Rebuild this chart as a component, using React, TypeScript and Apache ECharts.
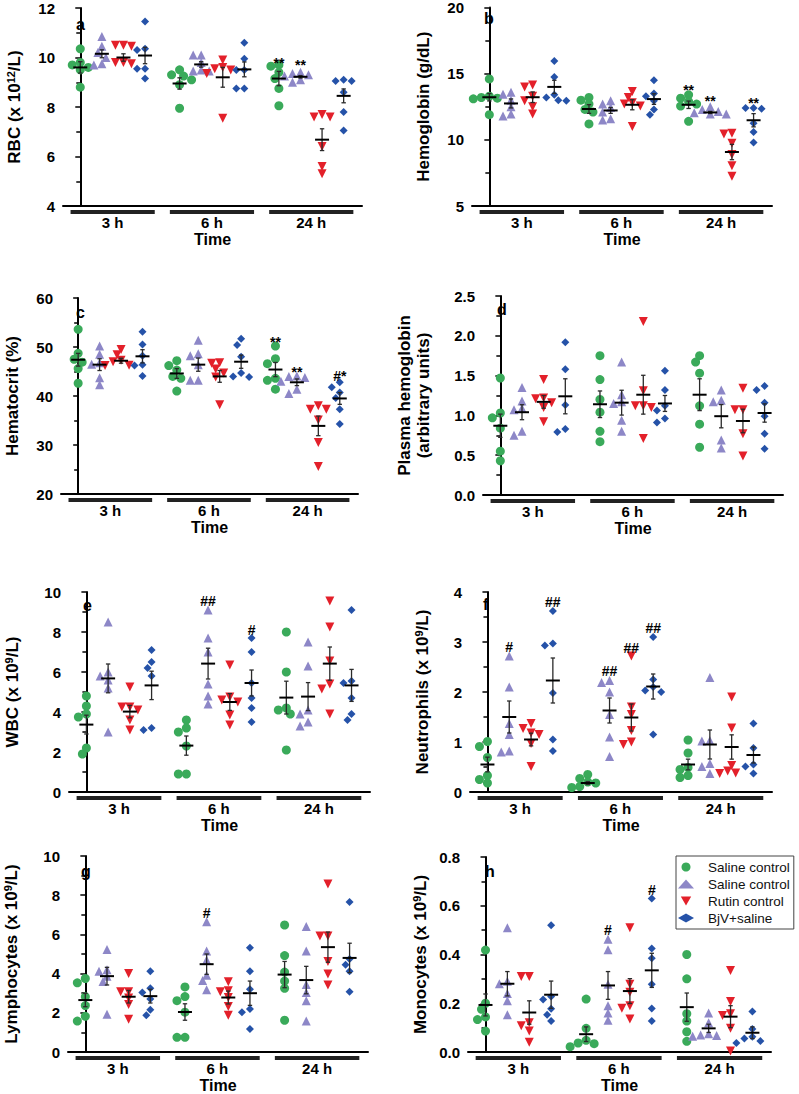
import React, { useEffect, useRef } from "react";
import * as echarts from "echarts";

const FONT = '"Liberation Sans", Arial, Helvetica, sans-serif';

// ---------- shared categories ----------
const groups = ["3 h", "6 h", "24 h"];
const seriesLabels = ["Saline control", "Saline control", "Rutin control", "BjV+saline"];
const COLORS = ["#3aaa5a", "#8d87c7", "#e3202a", "#2552a8"];
const SYMBOLS = ["circle", "triangle", "triangle", "diamond"];
const ROTS = [0, 0, 180, 0];
const SIZES = [9, 9, 9, 8];
const LEGEND_ICONS = ["circle", "triangle", "path://M0,0L10,0L5,8.66Z", "diamond"];

// ---------- a: RBC ----------  [series][group][points]
const rbcPts = [
  [[10.35, 9.8, 9.7, 9.6, 9.5, 8.8], [9.5, 9.3, 9.25, 9.1, 8.9, 7.95], [9.7, 9.65, 9.4, 9.15, 8.75, 8.05]],
  [[10.85, 10.45, 10.2, 10.0, 9.75, 9.7], [10.1, 10.1, 9.8, 9.5, 9.45, 9.45], [9.4, 9.35, 9.3, 9.25, 9.1, 9.0]],
  [[10.5, 10.5, 10.45, 9.8, 9.75, 9.8], [9.9, 9.6, 9.55, 9.5, 9.35, 7.55], [7.7, 7.6, 7.6, 6.4, 5.6, 5.3]],
  [[11.45, 10.35, 10.3, 9.55, 9.55, 9.15], [10.6, 9.95, 9.5, 9.5, 8.75, 8.75], [9.1, 9.05, 9.05, 8.6, 7.8, 7.05]],
];
const rbcMean = [[9.6, 8.95, 9.15], [10.15, 9.72, 9.22], [10.0, 9.2, 6.68], [10.08, 9.52, 8.45]];
const rbcSem = [[0.23, 0.23, 0.29], [0.16, 0.11, 0.05], [0.15, 0.4, 0.44], [0.33, 0.3, 0.28]];
const rbcAnn = [[2, 0, "**", 9.95], [2, 1, "**", 9.85]];

// ---------- b: Hemoglobin ----------
const hgbPts = [
  [[14.6, 13.3, 13.2, 13.15, 13.1, 11.9], [13.2, 13.0, 12.7, 12.3, 12.1, 11.2], [13.4, 13.15, 12.9, 12.7, 12.55, 11.4]],
  [[13.6, 13.45, 13.0, 12.5, 11.95, 11.8], [12.95, 12.7, 12.45, 12.1, 11.6, 11.5], [12.5, 12.3, 12.15, 12.05, 11.95, 11.95]],
  [[14.15, 14.0, 13.3, 12.95, 12.5, 11.95], [13.65, 13.2, 12.8, 12.7, 12.55, 11.0], [10.5, 10.45, 9.75, 8.9, 8.05, 7.25]],
  [[15.95, 14.75, 13.4, 13.2, 13.0, 12.95], [14.5, 13.5, 13.3, 12.95, 12.3, 11.9], [12.4, 12.4, 12.35, 11.25, 10.6, 9.8]],
];
const hgbMean = [[13.22, 12.33, 12.65], [12.75, 12.22, 12.07], [13.22, 12.65, 9.08], [14.0, 13.08, 11.48]];
const hgbSem = [[0.28, 0.33, 0.28], [0.34, 0.22, 0.08], [0.4, 0.38, 0.58], [0.5, 0.4, 0.5]];
const hgbAnn = [[2, 0, "**", 14.07], [2, 1, "**", 13.2], [2, 3, "**", 13.07]];

// ---------- c: Hematocrit ----------
const hctPts = [
  [[53.6, 48.7, 47.5, 46.9, 45.6, 42.6], [47.2, 46.2, 45.3, 44.0, 43.6, 41.0], [50.2, 47.6, 46.6, 43.6, 43.2, 41.4]],
  [[50.2, 48.5, 46.8, 46.5, 43.7, 42.3], [51.4, 48.6, 48.2, 46.4, 43.2, 43.2], [44.1, 44.0, 43.8, 43.0, 41.4, 40.5]],
  [[49.5, 48.4, 47.3, 47.0, 46.3, 46.2], [46.8, 46.7, 45.5, 44.7, 43.9, 38.2], [38.0, 37.3, 37.3, 35.1, 30.5, 25.6]],
  [[53.1, 50.5, 48.2, 46.4, 46.2, 44.1], [51.7, 50.4, 48.0, 44.7, 44.0, 43.9], [42.8, 41.8, 40.7, 39.6, 37.3, 34.3]],
];
const hctMean = [[47.4, 44.6, 45.4], [46.4, 46.4, 42.8], [47.2, 44.0, 33.9], [48.1, 47.0, 39.5]];
const hctSem = [[1.3, 1.0, 1.45], [1.2, 1.35, 0.68], [0.5, 1.2, 2.0], [1.35, 1.35, 1.2]];
const hctAnn = [[2, 0, "**", 51.9], [2, 1, "**", 45.8], [2, 3, "#*", 44.9]];

// ---------- d: Plasma hemoglobin ----------
const phPts = [
  [[1.47, 1.03, 0.97, 0.84, 0.55, 0.43], [1.75, 1.45, 1.2, 1.04, 0.8, 0.67], [1.75, 1.67, 1.53, 1.12, 0.89, 0.6]],
  [[1.35, 1.18, 1.09, 1.07, 0.8, 0.75], [1.67, 1.26, 1.17, 1.15, 0.94, 0.8], [1.32, 1.19, 1.17, 0.69, 0.59]],
  [[1.45, 1.22, 1.21, 1.16, 1.1, 0.92], [2.18, 1.31, 1.12, 1.12, 1.1, 0.71], [1.34, 1.07, 1.07, 0.77, 0.49]],
  [[1.92, 1.58, 1.13, 0.83, 0.79], [1.56, 1.32, 1.12, 1.06, 0.96, 0.91], [1.37, 1.32, 1.16, 0.99, 0.77, 0.58]],
];
const phMean = [[0.87, 1.14, 1.26], [1.04, 1.16, 0.99], [1.17, 1.26, 0.93], [1.24, 1.15, 1.03]];
const phSem = [[0.146, 0.167, 0.2], [0.094, 0.156, 0.146], [0.08, 0.244, 0.148], [0.22, 0.1, 0.115]];
const phAnn: any[] = [];

// ---------- e: WBC ----------
const wbcPts = [
  [[4.8, 4.3, 3.9, 3.75, 2.2, 1.9], [3.6, 3.2, 3.0, 2.3, 0.9, 0.9], [8.0, 6.0, 4.2, 4.1, 3.9, 2.1]],
  [[8.5, 6.0, 5.8, 5.6, 5.2, 3.0], [9.1, 7.7, 7.0, 5.4, 4.8, 4.4], [7.5, 6.3, 4.1, 3.9, 3.5, 3.3]],
  [[5.25, 4.25, 4.25, 4.1, 3.6, 3.1], [6.35, 4.75, 4.6, 4.5, 3.85, 3.35], [9.55, 8.25, 6.55, 5.4, 5.15, 3.9]],
  [[7.1, 6.5, 6.2, 5.8, 3.2, 3.1], [7.7, 7.0, 5.45, 4.7, 4.2, 3.5], [9.1, 5.55, 5.45, 4.7, 3.9, 3.6]],
];
const wbcMean = [[3.37, 2.32, 4.72], [5.68, 6.42, 4.77], [4.02, 4.5, 6.42], [5.33, 5.45, 5.33]];
const wbcSem = [[0.47, 0.48, 0.82], [0.72, 0.77, 0.7], [0.31, 0.42, 0.83], [0.71, 0.65, 0.8]];
const wbcAnn = [[1, 1, "##", 9.58], [1, 3, "#", 8.17]];

// ---------- f: Neutrophils ----------
const neuPts = [
  [[1.01, 0.91, 0.69, 0.33, 0.25, 0.18], [0.35, 0.27, 0.2, 0.18, 0.11, 0.09], [1.04, 0.78, 0.49, 0.45, 0.33, 0.29]],
  [[2.72, 2.1, 1.37, 1.15, 0.82, 0.8], [2.23, 2.19, 2.0, 1.55, 1.1, 0.71], [2.29, 1.03, 1.02, 0.57, 0.51, 0.37]],
  [[1.37, 1.27, 1.18, 1.15, 0.97, 0.51], [2.72, 1.7, 1.55, 1.23, 1.0, 0.95], [1.9, 1.28, 0.53, 0.42, 0.38, 0.37]],
  [[3.62, 2.97, 2.93, 1.98, 1.05, 0.82], [3.1, 2.25, 2.1, 2.03, 2.0, 1.15], [1.37, 0.88, 0.55, 0.51, 0.37]],
];
const neuMean = [[0.55, 0.18, 0.55], [1.5, 1.63, 0.95], [1.05, 1.49, 0.9], [2.23, 2.11, 0.74]];
const neuSem = [[0.147, 0.03, 0.107], [0.32, 0.25, 0.29], [0.127, 0.27, 0.243], [0.45, 0.25, 0.16]];
const neuAnn = [[0, 1, "#", 2.93], [0, 3, "##", 3.83], [1, 1, "##", 2.45], [1, 2, "##", 2.9], [1, 3, "##", 3.3]];

// ---------- g: Lymphocytes ----------
const lymPts = [
  [[3.75, 3.53, 2.82, 2.37, 1.82, 1.58], [3.32, 2.83, 2.62, 2.03, 0.75, 0.75], [6.48, 4.92, 4.08, 3.62, 3.25, 1.62]],
  [[5.23, 4.2, 4.12, 3.87, 3.6, 1.92], [6.65, 5.15, 4.7, 3.92, 3.65, 3.17], [6.4, 5.15, 3.45, 3.03, 2.62, 1.58]],
  [[4.0, 3.08, 3.08, 2.75, 2.42, 1.67], [3.58, 3.12, 3.08, 2.78, 2.32, 1.87], [8.57, 5.92, 5.92, 4.62, 3.98, 3.42]],
  [[4.12, 3.25, 3.03, 2.7, 2.15, 1.87], [5.32, 4.12, 3.2, 2.2, 2.03, 1.17], [7.65, 4.75, 4.45, 4.12, 3.07]],
];
const lymMean = [[2.65, 2.04, 3.95], [3.87, 4.48, 3.67], [2.82, 2.78, 5.35], [2.85, 3.0, 4.8]];
const lymSem = [[0.34, 0.42, 0.67], [0.45, 0.52, 0.7], [0.32, 0.33, 0.77], [0.35, 0.62, 0.75]];
const lymAnn = [[1, 1, "#", 7.12]];

// ---------- h: Monocytes ----------
const monPts = [
  [[0.418, 0.2, 0.175, 0.144, 0.133, 0.086], [0.217, 0.097, 0.048, 0.037, 0.034, 0.022], [0.4, 0.3, 0.157, 0.127, 0.083, 0.044]],
  [[0.51, 0.29, 0.28, 0.24, 0.21, 0.153], [0.463, 0.42, 0.278, 0.19, 0.16, 0.13], [0.16, 0.12, 0.075, 0.07, 0.068, 0.065]],
  [[0.31, 0.31, 0.12, 0.108, 0.086, 0.04], [0.51, 0.278, 0.245, 0.19, 0.18, 0.135], [0.334, 0.207, 0.157, 0.15, 0.097, 0.004]],
  [[0.52, 0.228, 0.215, 0.177, 0.153, 0.127], [0.63, 0.425, 0.385, 0.278, 0.178, 0.127], [0.166, 0.094, 0.063, 0.055, 0.045, 0.037]],
];
const monMean = [[0.193, 0.073, 0.184], [0.28, 0.273, 0.097], [0.162, 0.25, 0.145], [0.235, 0.335, 0.079]];
const monSem = [[0.045, 0.03, 0.058], [0.05, 0.057, 0.017], [0.048, 0.051, 0.045], [0.056, 0.07, 0.024]];
const monAnn = [[1, 1, "#", 0.506], [1, 3, "#", 0.67]];

// ---------- layout ----------
const GROUP_STEP = 4.6;
const X_MIN = -0.8;
const X_MAX = 13.05;
const xPos = (g: number, s: number) => g * GROUP_STEP + s;
const groupCenter = (g: number) => g * GROUP_STEP + 1.5;

const f0 = (v: number) => String(v);
const f1 = (v: number) => v.toFixed(1);

const panels = [
  { letter: "a", name: "RBC (x 10{s|12}/L)", pts: rbcPts, mean: rbcMean, sem: rbcSem, ann: rbcAnn, min: 4, max: 12, interval: 2, fmt: f0, grid: { left: 63, top: 8, width: 299, height: 198 }, nameGap: 39, lx: 76, ly: 24 },
  { letter: "b", name: "Hemoglobin (g/dL)", pts: hgbPts, mean: hgbMean, sem: hgbSem, ann: hgbAnn, min: 5, max: 20, interval: 5, fmt: f0, grid: { left: 472, top: 6, width: 300, height: 200 }, nameGap: 39, lx: 484, ly: 18 },
  { letter: "c", name: "Hematocrit (%)", pts: hctPts, mean: hctMean, sem: hctSem, ann: hctAnn, min: 20, max: 60, interval: 10, fmt: f0, grid: { left: 61, top: 298, width: 297, height: 196 }, nameGap: 39, lx: 76, ly: 312 },
  { letter: "d", name: "Plasma hemoglobin\n(arbitrary units)", pts: phPts, mean: phMean, sem: phSem, ann: phAnn, min: 0, max: 2.5, interval: 0.5, fmt: f1, grid: { left: 483, top: 296, width: 300, height: 199 }, nameGap: 50, lx: 497, ly: 309 },
  { letter: "e", name: "WBC (x 10{s|9}/L)", pts: wbcPts, mean: wbcMean, sem: wbcSem, ann: wbcAnn, min: 0, max: 10, interval: 2, fmt: f0, grid: { left: 69, top: 592, width: 301, height: 200 }, nameGap: 47, lx: 83, ly: 605 },
  { letter: "f", name: "Neutrophils (x 10{s|9}/L)", pts: neuPts, mean: neuMean, sem: neuSem, ann: neuAnn, min: 0, max: 4, interval: 1, fmt: f0, grid: { left: 470, top: 592, width: 302, height: 200 }, nameGap: 38, lx: 483, ly: 604 },
  { letter: "g", name: "Lymphocytes (x 10{s|9}/L)", pts: lymPts, mean: lymMean, sem: lymSem, ann: lymAnn, min: 0, max: 10, interval: 2, fmt: f0, grid: { left: 68, top: 856, width: 300, height: 200 }, nameGap: 47, lx: 81, ly: 871 },
  { letter: "h", name: "Monocytes (x 10{s|9}/L)", pts: monPts, mean: monMean, sem: monSem, ann: monAnn, min: 0, max: 0.8, interval: 0.2, fmt: f1, grid: { left: 468, top: 857, width: 303, height: 199 }, nameGap: 38, lx: 485, ly: 871 },
];

// beeswarm offsets (in x units) so points of similar value sit side by side
function swarm(vals: number[], pxPerY: number, pxPerX: number): number[] {
  const d = 6.5;
  const cands = [0, -4, 4, -8, 8, -12, 12, -16, 16];
  const order = vals.map((_, i) => i).sort((a, b) => vals[b] - vals[a]);
  const placed: { x: number; y: number }[] = [];
  const offs = new Array(vals.length).fill(0);
  for (const i of order) {
    const y = vals[i] * pxPerY;
    for (const c of cands) {
      const ok = placed.every((p) => Math.hypot(p.x - c, p.y - y) >= d);
      if (ok) {
        offs[i] = c / pxPerX;
        placed.push({ x: c, y });
        break;
      }
    }
  }
  return offs;
}

function buildOption() {
  const grid: any[] = [];
  const xAxis: any[] = [];
  const yAxis: any[] = [];
  const series: any[] = [];
  const graphic: any[] = [];

  panels.forEach((p, pi) => {
    grid.push({ ...p.grid, containLabel: false });
    xAxis.push({
      gridIndex: pi,
      type: "value",
      min: X_MIN,
      max: X_MAX,
      axisLine: { show: true, onZero: false, lineStyle: { color: "#000", width: 2 } },
      axisTick: { show: false },
      splitLine: { show: false },
      axisLabel: {
        customValues: groups.map((_, g) => groupCenter(g)),
        formatter: (v: number) => groups[Math.round((v - 1.5) / GROUP_STEP)] || "",
        margin: 9,
        fontSize: 15,
        fontWeight: "bold",
        color: "#000",
        fontFamily: FONT,
      },
      name: "Time",
      nameLocation: "middle",
      nameGap: 25,
      nameTextStyle: { fontSize: 16, fontWeight: "bold", color: "#000", fontFamily: FONT },
    });
    yAxis.push({
      gridIndex: pi,
      type: "value",
      min: p.min,
      max: p.max,
      interval: p.interval,
      axisLine: { show: true, lineStyle: { color: "#000", width: 2 } },
      axisTick: { show: true, length: 5, lineStyle: { color: "#000", width: 1.5 } },
      minorTick: { show: true, splitNumber: 2, length: 4, lineStyle: { color: "#000", width: 1.5 } },
      splitLine: { show: false },
      minorSplitLine: { show: false },
      axisLabel: { formatter: p.fmt, margin: 8, fontSize: 15, fontWeight: "bold", color: "#000", fontFamily: FONT },
      name: p.name,
      nameLocation: "middle",
      nameGap: p.nameGap,
      nameTextStyle: {
        fontSize: 17,
        fontWeight: "bold",
        color: "#000",
        fontFamily: FONT,
        lineHeight: 19,
        rich: { s: { fontSize: 11, fontWeight: "bold", color: "#000", fontFamily: FONT, verticalAlign: "top", lineHeight: 19 } },
      },
    });

    const pxPerY = p.grid.height / (p.max - p.min);
    const pxPerX = p.grid.width / (X_MAX - X_MIN);

    // points
    for (let s = 0; s < 4; s++) {
      const data: number[][] = [];
      for (let g = 0; g < 3; g++) {
        const vals = p.pts[s][g];
        const offs = swarm(vals, pxPerY, pxPerX);
        vals.forEach((v, i) => data.push([xPos(g, s) + offs[i], v]));
      }
      series.push({
        type: "scatter",
        name: "S" + s,
        xAxisIndex: pi,
        yAxisIndex: pi,
        symbol: SYMBOLS[s],
        symbolRotate: ROTS[s],
        symbolSize: SIZES[s],
        itemStyle: { color: COLORS[s], opacity: 1 },
        data,
        z: 2,
      });
    }

    // mean ± SEM
    const msData: number[][] = [];
    for (let s = 0; s < 4; s++) for (let g = 0; g < 3; g++) msData.push([xPos(g, s), p.mean[s][g], p.sem[s][g]]);
    series.push({
      type: "custom",
      xAxisIndex: pi,
      yAxisIndex: pi,
      encode: { x: 0, y: 1 },
      z: 5,
      data: msData,
      renderItem: (params: any, api: any) => {
        const x = api.value(0), m = api.value(1), se = api.value(2);
        const c = api.coord([x, m]);
        const t = api.coord([x, m + se]);
        const b = api.coord([x, m - se]);
        const hw = 7, cw = 2.2;
        const es = { stroke: "#2a2a2a", lineWidth: 1.3 };
        return {
          type: "group",
          children: [
            { type: "line", shape: { x1: c[0], y1: t[1], x2: c[0], y2: b[1] }, style: es },
            { type: "line", shape: { x1: c[0] - cw, y1: t[1], x2: c[0] + cw, y2: t[1] }, style: es },
            { type: "line", shape: { x1: c[0] - cw, y1: b[1], x2: c[0] + cw, y2: b[1] }, style: es },
            { type: "line", shape: { x1: c[0] - hw, y1: c[1], x2: c[0] + hw, y2: c[1] }, style: { stroke: "#000", lineWidth: 2 } },
          ],
        };
      },
    });

    // group bars under axis
    series.push({
      type: "custom",
      xAxisIndex: pi,
      yAxisIndex: pi,
      encode: { x: 0, y: 1 },
      clip: false,
      silent: true,
      data: groups.map((_, g) => [groupCenter(g), p.min]),
      renderItem: (params: any, api: any) => {
        const cx = api.value(0), y0 = api.value(1);
        const a = api.coord([cx - 1.95, y0]);
        const b = api.coord([cx + 1.95, y0]);
        return { type: "rect", shape: { x: a[0], y: a[1] + 4, width: b[0] - a[0], height: 4 }, style: { fill: "#222" } };
      },
    });

    // significance marks
    if (p.ann.length) {
      series.push({
        type: "scatter",
        xAxisIndex: pi,
        yAxisIndex: pi,
        symbolSize: 1,
        itemStyle: { color: "rgba(0,0,0,0)" },
        silent: true,
        z: 6,
        label: {
          show: true,
          position: "inside",
          formatter: "{b}",
          color: "#000",
          fontSize: 14,
          fontWeight: "bold",
          fontFamily: FONT,
          opacity: 1,
          textBorderWidth: 0,
          textBorderColor: "transparent",
        },
        data: p.ann.map((a: any) => ({
          name: a[2],
          value: [xPos(a[0], a[1]), a[3]],
          label: { offset: [0, a[2].indexOf("*") >= 0 ? 4 : 1] },
        })),
      });
    }

    graphic.push({
      type: "text",
      x: p.lx,
      y: p.ly,
      style: { text: p.letter, font: `bold 16px ${FONT}`, fill: "#000", verticalAlign: "middle", align: "left" },
    });
  });

  return {
    animation: false,
    backgroundColor: "#fff",
    textStyle: { fontFamily: FONT },
    grid,
    xAxis,
    yAxis,
    series,
    graphic,
    legend: {
      show: true,
      data: ["S0", "S1", "S2", "S3"].map((n, i) => ({ name: n, icon: LEGEND_ICONS[i] })),
      orient: "vertical",
      left: 676,
      top: 856,
      padding: [4, 4, 4, 2],
      itemWidth: 16,
      itemHeight: 9,
      itemGap: 3,
      selectedMode: false,
      borderColor: "#444",
      borderWidth: 1,
      backgroundColor: "#fff",
      formatter: (n: string) => seriesLabels[Number(n.slice(1))],
      textStyle: { fontSize: 13.5, color: "#111", fontFamily: FONT, padding: [0, 0, 0, 9] },
    },
  };
}

export default function App() {
  const ref = useRef<HTMLDivElement>(null);
  useEffect(() => {
    if (!ref.current) return;
    const chart = echarts.init(ref.current, null, { renderer: "svg" });
    chart.setOption(buildOption() as any);
    return () => chart.dispose();
  }, []);
  return <div ref={ref} style={{ position: "absolute", left: 0, top: 0, width: 799, height: 1094, background: "#fff" }} />;
}
